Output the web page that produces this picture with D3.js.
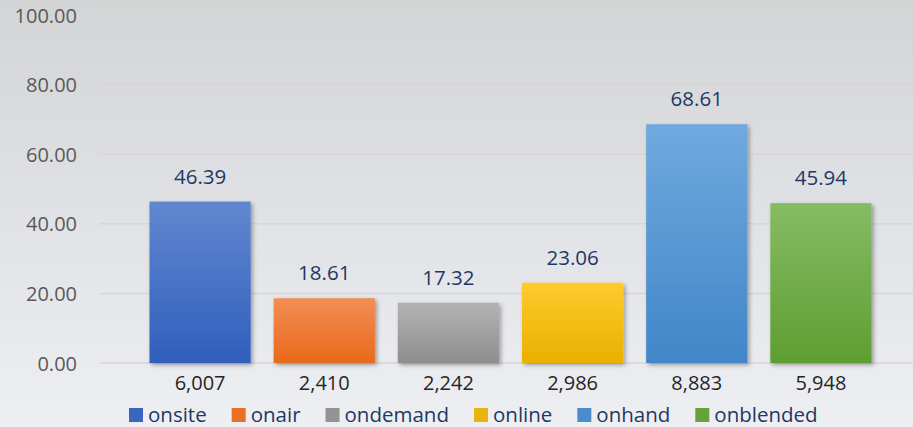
<!DOCTYPE html>
<html><head><meta charset="utf-8">
<script src="https://cdn.jsdelivr.net/npm/d3@7/dist/d3.min.js"></script>
<style>html,body{margin:0;padding:0;overflow:hidden;} svg{display:block;font-family:"Open Sans",sans-serif;}</style>
</head><body>
<svg id="c" width="913" height="427"></svg>
<script>
const categories = ["6,007","2,410","2,242","2,986","8,883","5,948"];
const seriesNames = ["onsite","onair","ondemand","online","onhand","onblended"];
const values = [46.39,18.61,17.32,23.06,68.61,45.94];
const yTicks = [0,20,40,60,80,100];
const colorsTop = ["#6187d0","#f38e54","#b3b3b3","#ffcb2e","#70a9de","#86bc64"];
const colorsBot = ["#2f5fbb","#e8691b","#8e8e8e","#e9b000","#4186c9","#5d9e31"];

const W=913,H=427;
const svg=d3.select("#c");
const defs=svg.append("defs");
const bg=defs.append("linearGradient").attr("id","bg").attr("x1",0).attr("y1",0).attr("x2",0).attr("y2",1);
bg.append("stop").attr("offset","0%").attr("stop-color","#d3d4d6");
bg.append("stop").attr("offset","100%").attr("stop-color","#eeeff3");
svg.append("rect").attr("width",W).attr("height",H).attr("fill","url(#bg)");

seriesNames.forEach((s,i)=>{
  const g=defs.append("linearGradient").attr("id","g"+i).attr("x1",0).attr("y1",0).attr("x2",0).attr("y2",1);
  g.append("stop").attr("offset","0%").attr("stop-color",colorsTop[i]);
  g.append("stop").attr("offset","100%").attr("stop-color",colorsBot[i]);
});
const f=defs.append("filter").attr("id","sh").attr("x","-20%").attr("y","-20%").attr("width","140%").attr("height","140%");
f.append("feDropShadow").attr("dx",2).attr("dy",2).attr("stdDeviation",2.2).attr("flood-color","#000").attr("flood-opacity",0.35);

const y=d3.scaleLinear().domain([0,100]).range([363,15]);
const x=d3.scaleBand().domain(categories).range([138,883]).paddingInner(0.185).paddingOuter(0.0925);

// y axis labels
const yAxis=d3.axisLeft(y).tickValues(yTicks).tickFormat(d3.format(".2f")).tickSize(0).tickPadding(0);
const ga=svg.append("g").attr("transform","translate(77,0)").call(yAxis);
ga.select(".domain").remove();
ga.selectAll("text").attr("font-size",20).attr("fill","#595959").attr("font-family","'Open Sans',sans-serif").attr("dy","0.35em");
// gridlines
svg.append("g").selectAll("line").data(yTicks).join("line")
  .attr("x1",100).attr("x2",W).attr("y1",d=>y(d)).attr("y2",d=>y(d))
  .attr("stroke","#d6d6d6").attr("stroke-width",1.5);

// bars
svg.append("g").selectAll("rect").data(values).join("rect")
  .attr("x",(d,i)=>x(categories[i])).attr("width",x.bandwidth())
  .attr("y",d=>y(d)).attr("height",d=>y(0)-y(d))
  .attr("fill",(d,i)=>"url(#g"+i+")").attr("filter","url(#sh)");

// value labels
svg.append("g").selectAll("text").data(values).join("text")
  .attr("x",(d,i)=>x(categories[i])+x.bandwidth()/2).attr("y",d=>y(d)-18)
  .attr("text-anchor","middle").attr("font-size",20.5).attr("fill","#1f3864")
  .text(d=>d3.format(".2f")(d));

// category axis labels
const xAxis=d3.axisBottom(x).tickSize(0).tickPadding(0);
const gx=svg.append("g").attr("transform","translate(0,390)").call(xAxis);
gx.select(".domain").remove();
gx.selectAll("text").attr("font-size",20).attr("fill","#262626").attr("font-family","'Open Sans',sans-serif").attr("dy",0);

// legend
const lg=svg.append("g");
let lx=129;
seriesNames.forEach((s,i)=>{
  lg.append("rect").attr("x",lx).attr("y",408).attr("width",14).attr("height",14).attr("fill",colorsBot[i]).attr("opacity",0.95);
  const t=lg.append("text").attr("x",lx+19).attr("y",421.5).attr("font-size",20.5).attr("fill","#1f3864").text(s);
  lx+=19+t.node().getComputedTextLength()+25;
});
</script>
</body></html>
